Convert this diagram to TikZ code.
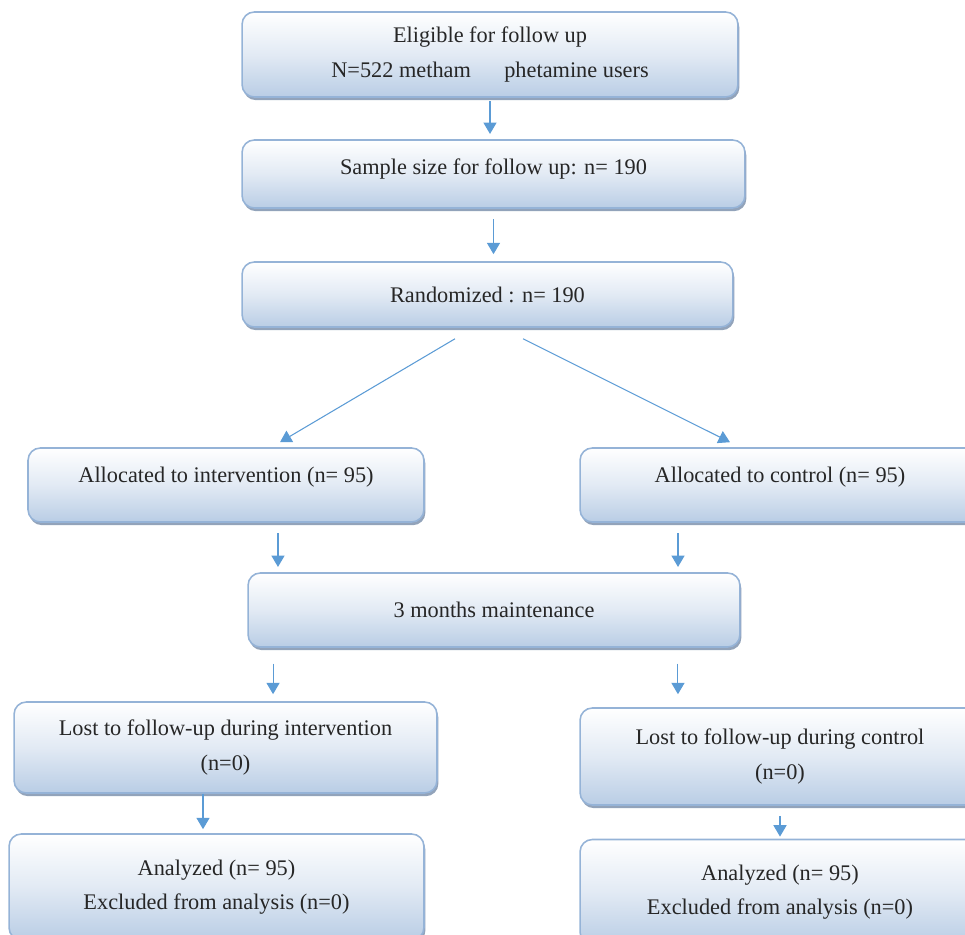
\documentclass[tikz,border=0pt]{standalone}
\usepackage{fontspec}
\setmainfont{Liberation Serif}
\usepackage{xcolor}
\usetikzlibrary{arrows.meta}
\usetikzlibrary{shadows}

\definecolor{boxblue}{HTML}{B9CDE5}
\definecolor{boxmid}{HTML}{E2EAF4}
\definecolor{boxline}{HTML}{95B3D7}
\definecolor{shadowc}{HTML}{7F93AE}
\definecolor{arrowc}{HTML}{5B9BD5}

\tikzset{
  box/.style={draw=boxline, line width=0.9pt, rounded corners=7pt,
    top color=white, bottom color=boxblue, middle color=boxmid,
    drop shadow={shadow xshift=0.8pt, shadow yshift=-1.8pt, fill=shadowc, opacity=0.85},
    align=center, text=black!85, font=\fontsize{12.7}{19.5}\selectfont},
  arr/.style={draw=arrowc, line width=0.6pt, -{Triangle[length=6.5pt,width=7.5pt]}}
}

\begin{document}
\begin{tikzpicture}[x=0.02cm, y=-0.02cm]
\useasboundingbox (0,0) rectangle (965,935);
\clip (0,0) rectangle (965,935);

\node [box, minimum width=9.92cm, minimum height=1.7cm] (elig) at (490,54.5)
  {Eligible for follow up\\N=522 metham\hspace{19pt}phetamine users};
\node [box, minimum width=10.06cm, minimum height=1.36cm, text depth=8pt] (sample) at (493.5,174)
  {Sample size for follow up: n= 190};
\node [box, minimum width=9.82cm, minimum height=1.3cm] (rand) at (487.5,294.5)
  {Randomized : n= 190};
\node [box, minimum width=7.92cm, minimum height=1.48cm, text depth=12pt] (alloci) at (226,485)
  {Allocated to intervention (n= 95)};
\node [box, minimum width=8cm, minimum height=1.48cm, text depth=12pt] (allocc) at (780,485)
  {Allocated to control (n= 95)};
\node [box, minimum width=9.84cm, minimum height=1.48cm] (maint) at (494,610)
  {3 months maintenance};
\node [box, minimum width=8.46cm, minimum height=1.82cm] (losti) at (225.5,747.5)
  {Lost to follow-up during intervention\\(n=0)};
\node [box, minimum width=8cm, minimum height=1.94cm] (lostc) at (780,756.5)
  {Lost to follow-up during control\\(n=0)};
\node [box, minimum width=8.3cm, minimum height=2.12cm] (anai) at (216.5,887)
  {Analyzed (n= 95)\\Excluded from analysis (n=0)};
\node [box, minimum width=8cm, minimum height=2.1cm] (anac) at (780,892)
  {Analyzed (n= 95)\\Excluded from analysis (n=0)};

\draw [arr, shorten <=2pt, shorten >=3pt] (elig.south) -- (elig.south |- sample.north);
\draw [arr, shorten <=6pt, shorten >=4pt] (sample.south) -- (sample.south |- rand.north);
\draw [arr] ([xshift=-0.65cm,yshift=-0.22cm]rand.south) -- ([xshift=1.08cm,yshift=0.1cm]alloci.north);
\draw [arr] ([xshift=0.71cm,yshift=-0.22cm]rand.south) -- ([xshift=-1cm,yshift=0.1cm]allocc.north);

\coordinate (ai) at ([xshift=1.04cm]alloci.south);
\coordinate (ac) at ([xshift=-2.04cm]allocc.south);
\draw [arr, shorten <=6pt, shorten >=3pt] (ai) -- (ai |- maint.north);
\draw [arr, shorten <=6pt, shorten >=3pt] (ac) -- (ac |- maint.north);

\coordinate (mi) at ([xshift=-4.42cm]maint.south);
\coordinate (mc) at ([xshift=3.68cm]maint.south);
\draw [arr, shorten <=9pt, shorten >=4pt] (mi) -- (mi |- losti.north);
\draw [arr, shorten <=9pt, shorten >=7.4pt] (mc) -- (mc |- lostc.north);

\coordinate (li) at ([xshift=-0.45cm]losti.south);
\draw [arr, shorten >=2.3pt] (li) -- (li |- anai.north);
\draw [arr, shorten <=5.7pt, shorten >=1.2pt] (lostc.south) -- (anac.north);
\end{tikzpicture}
\end{document}
